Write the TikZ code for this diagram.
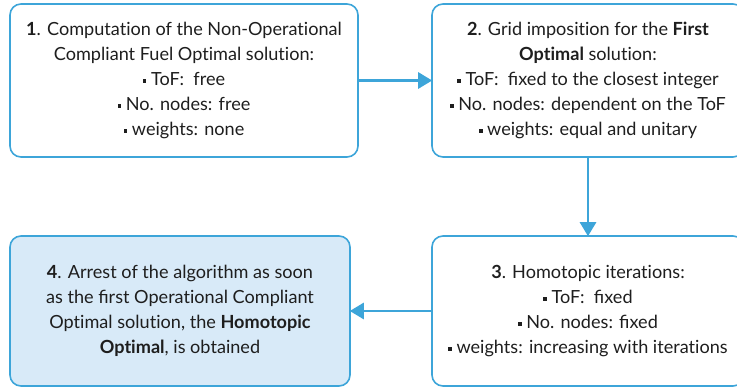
\documentclass[tikz,border=0pt]{standalone}
\usepackage{fontspec}
\setmainfont{Lato}
\usetikzlibrary{arrows.meta}
\definecolor{edgeblue}{HTML}{3DA5D9}
\definecolor{fillblue}{HTML}{D8EAF8}
\definecolor{inkgray}{HTML}{1E1E1E}
% square bullet
\newcommand{\sqb}{\raisebox{2.9pt}{\rule{3.6pt}{3.6pt}}\ }
% plain "ti" without the font's ligature
\newcommand{\tI}{t\kern0pt i}
\tikzset{
  stagebox/.style={draw=edgeblue, line width=1.6pt, rounded corners=11pt,
    align=center, text=inkgray, inner sep=0pt,
    font=\fontsize{18.1}{25}\selectfont},
  flowarrow/.style={draw=edgeblue, line width=2.8pt,
    -{Triangle[length=14pt,width=16pt]}, shorten >=-1pt}
}
\begin{document}
\begin{tikzpicture}[x=1pt,y=-1pt]
\useasboundingbox (0,0) rectangle (737,390);
\clip (0,0) rectangle (737,390);

\node[stagebox, minimum width=348pt, minimum height=153pt] (b1) at (184,80.5)
  {\textbf{1}. Computa\tI on of the Non-Opera\tI onal\\
   Compliant Fuel Op\tI mal solu\tI on:\\
   \sqb ToF:\ \ free\\
   \sqb No. nodes: free\hspace*{38pt}\\
   \sqb weights: none};

\node[stagebox, minimum width=312pt, minimum height=153pt] (b2) at (588,80.5)
  {\textbf{2}. Grid imposi\tI on for the \textbf{First}\\
   \textbf{Op\tI mal} solu\tI on:\\
   \sqb ToF:\ \ fixed to the closest integer\\
   \sqb No. nodes: dependent on the ToF\\
   \sqb weights: equal and unitary};

\node[stagebox, minimum width=312pt, minimum height=150pt] (b3) at (588,311)
  {\textbf{3}. Homotopic itera\tI ons:\\
   \sqb ToF:\ \ fixed\\
   \sqb No. nodes: fixed\\
   \sqb weights: increasing with itera\tI ons};

\node[stagebox, fill=fillblue, minimum width=340pt, minimum height=150pt] (b4) at (180,311)
  {\textbf{4}. Arrest of the algorithm as soon\\
   as the first Opera\tI onal Compliant\\
   Op\tI mal solu\tI on, the \textbf{Homotopic}\\
   \textbf{Op\tI mal}, is obtained};

\draw[flowarrow] (b1.east) -- (b2.west);
\draw[flowarrow] (b2.south) -- (b3.north);
\draw[flowarrow] (b3.west) -- (b4.east);
\end{tikzpicture}
\end{document}
